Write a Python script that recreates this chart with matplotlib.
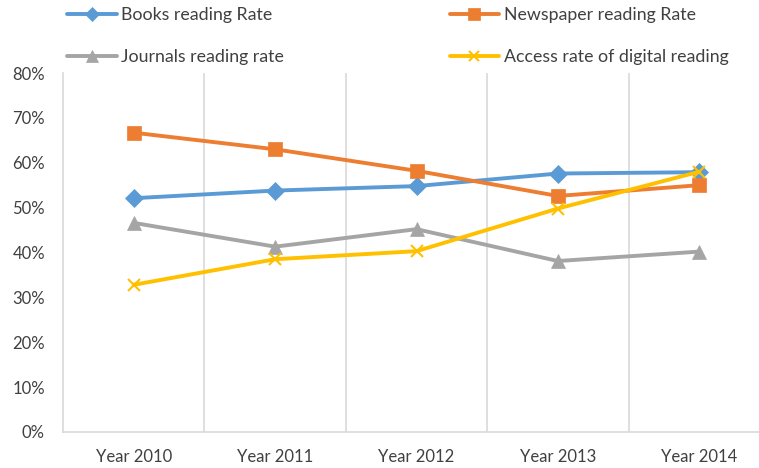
import matplotlib
matplotlib.use("Agg")
import matplotlib.pyplot as plt
from matplotlib.ticker import PercentFormatter

years = ["Year 2010", "Year 2011", "Year 2012", "Year 2013", "Year 2014"]
books = [52.1, 53.8, 54.8, 57.6, 57.9]
newspaper = [66.7, 63.0, 58.2, 52.6, 55.0]
journals = [46.6, 41.3, 45.2, 38.1, 40.2]
digital = [32.8, 38.5, 40.3, 49.8, 58.0]
y_ticks = [0, 10, 20, 30, 40, 50, 60, 70, 80]

plt.rcParams['font.family'] = ['Lato', 'DejaVu Sans']

fig = plt.figure(figsize=(7.59, 4.68), dpi=100)
W, H = 759, 468
left, right, top, bottom = 63, 770, 73, 432
ax = fig.add_axes([left / W, 1 - bottom / H, (right - left) / W, (bottom - top) / H])

x = list(range(len(years)))
series = [
    ("Books reading Rate", books, "#5B9BD5", "D", 9),
    ("Newspaper reading Rate", newspaper, "#ED7D31", "s", 10),
    ("Journals reading rate", journals, "#A5A5A5", "^", 10),
    ("Access rate of digital reading", digital, "#FFC000", "x", 9),
]
handles = []
for name, vals, col, mk, ms in series:
    h, = ax.plot(x, vals, color=col, lw=2.8, marker=mk, markersize=ms,
                 markeredgewidth=1.5 if mk == "x" else 0.5, markeredgecolor=col,
                 label=name, solid_capstyle="round", clip_on=False)
    handles.append(h)

ax.set_xlim(-0.5, 4.5)
ax.set_ylim(0, 80)
ax.set_yticks(y_ticks)
ax.yaxis.set_major_formatter(PercentFormatter(decimals=0))
ax.set_xticks(x)
ax.set_xticklabels(years)
ax.set_xticks([0.5, 1.5, 2.5, 3.5], minor=True)
ax.grid(True, axis="x", which="minor", color="#D9D9D9", lw=1.2)
ax.tick_params(axis="both", which="both", length=0, labelsize=12, colors="#404040")
ax.tick_params(axis="x", pad=12)
ax.tick_params(axis="y", pad=13)
for s in ["top", "right"]:
    ax.spines[s].set_visible(False)
ax.spines["left"].set_color("#D9D9D9")
ax.spines["bottom"].set_color("#D9D9D9")
ax.spines["left"].set_linewidth(1.2)
ax.spines["bottom"].set_linewidth(1.2)

fig.legend(handles=[handles[0], handles[2], handles[1], handles[3]],
           loc="upper left", bbox_to_anchor=(60 / W, 1 - 0 / H), ncol=2,
           frameon=False, fontsize=12.8, handlelength=2.8, handletextpad=0.25,
           columnspacing=9.3, labelspacing=1.45, labelcolor="#404040",
           markerscale=0.8, borderaxespad=0)

fig.savefig("out.png", dpi=100)
